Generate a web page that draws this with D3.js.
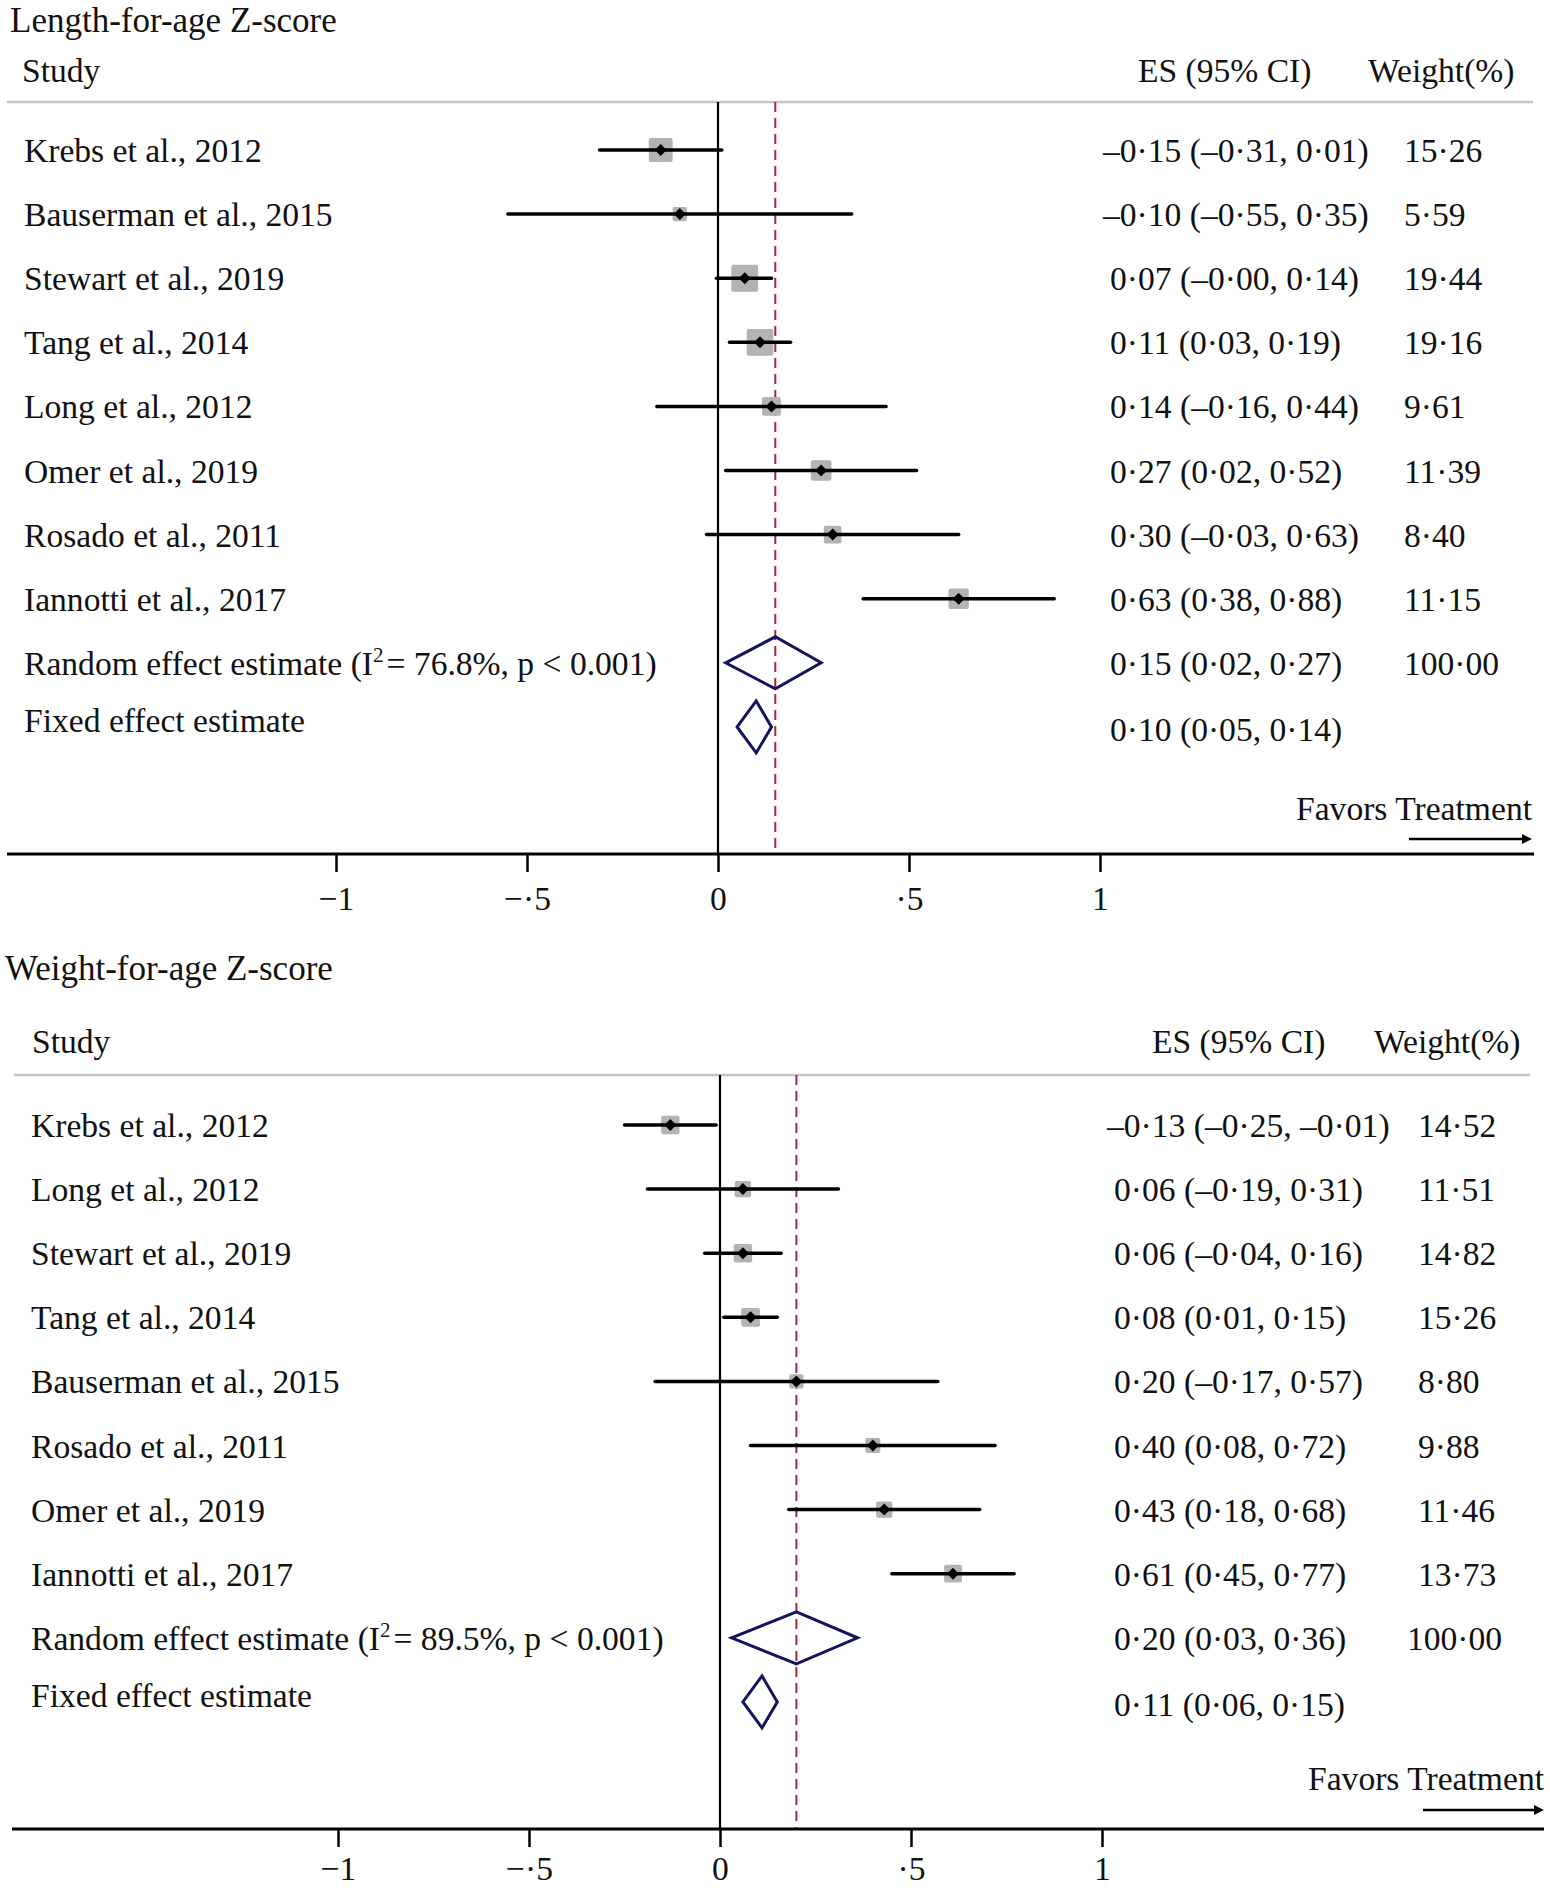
<!DOCTYPE html>
<html>
<head>
<meta charset="utf-8">
<script src="https://cdn.jsdelivr.net/npm/d3@7"></script>
<style>
  body { margin: 0; background: #fff; }
  svg { display: block; }
  text { font-family: "Liberation Serif", "Times New Roman", serif; fill: #111; }
</style>
</head>
<body>
<div id="chart"></div>
<script>
// Length-for-age Z-score
const lazStudies = ["Krebs et al., 2012", "Bauserman et al., 2015", "Stewart et al., 2019", "Tang et al., 2014",
    "Long et al., 2012", "Omer et al., 2019", "Rosado et al., 2011", "Iannotti et al., 2017"];
const lazES = [-0.15, -0.10, 0.07, 0.11, 0.14, 0.27, 0.30, 0.63];
const lazLo = [-0.31, -0.55, -0.004, 0.03, -0.16, 0.02, -0.03, 0.38];
const lazHi = [0.01, 0.35, 0.14, 0.19, 0.44, 0.52, 0.63, 0.88];
const lazWeight = [15.26, 5.59, 19.44, 19.16, 9.61, 11.39, 8.40, 11.15];
const lazRandom = [0.15, 0.02, 0.27];
const lazFixed = [0.10, 0.05, 0.14];
const lazI2 = "76.8%";

// Weight-for-age Z-score
const wazStudies = ["Krebs et al., 2012", "Long et al., 2012", "Stewart et al., 2019", "Tang et al., 2014",
    "Bauserman et al., 2015", "Rosado et al., 2011", "Omer et al., 2019", "Iannotti et al., 2017"];
const wazES = [-0.13, 0.06, 0.06, 0.08, 0.20, 0.40, 0.43, 0.61];
const wazLo = [-0.25, -0.19, -0.04, 0.01, -0.17, 0.08, 0.18, 0.45];
const wazHi = [-0.01, 0.31, 0.16, 0.15, 0.57, 0.72, 0.68, 0.77];
const wazWeight = [14.52, 11.51, 14.82, 15.26, 8.80, 9.88, 11.46, 13.73];
const wazRandom = [0.20, 0.03, 0.36];
const wazFixed = [0.11, 0.06, 0.15];
const wazI2 = "89.5%";

const tickValues = [-1, -0.5, 0, 0.5, 1];

const width = 1550, height = 1888;
const fontSize = 33.6;

const svg = d3.select("#chart").append("svg")
    .attr("width", width)
    .attr("height", height)
    .attr("viewBox", [0, 0, width, height]);

// number formatting like the original (middle dot decimals, en dash minus)
const fmt = v => v.toFixed(2).replace(".", "\u00b7").replace("-", "\u2013");
const tickFmt = v => v === 0 ? "0" : String(v).replace("0.", ".").replace(".", "\u00b7").replace("-", "\u2212");
const ciText = (es, lo, hi) => `${fmt(es)} (${fmt(lo)}, ${fmt(hi)})`;

function drawPanel(p) {
    const g = svg.append("g");
    const n = p.studies.length;

    const x = d3.scaleLinear().domain([-1, 1]).range([p.zero - 382, p.zero + 382]);
    const y = d3.scaleLinear().domain([0, 9]).range([p.row0, p.row0 + 9 * 64.1]);
    const box = d3.scaleSqrt().domain([0, 1]).range([0, p.boxK]);
    // ES column: values starting with a minus hang a little to the left
    const esX = v => v < 0 ? p.esX - 7 : p.esX;

    // title + header
    g.append("text").attr("x", p.titleX).attr("y", p.titleY).style("font-size", "35px").text(p.title);
    g.append("text").attr("x", p.studyX).attr("y", p.headerY).style("font-size", fontSize + "px").text("Study");
    g.append("text").attr("x", p.esHeadX).attr("y", p.headerY).style("font-size", fontSize + "px").text("ES (95% CI)");
    g.append("text").attr("x", p.wHeadX).attr("y", p.headerY).style("font-size", fontSize + "px").text("Weight(%)");

    g.append("line")
        .attr("x1", p.lineX1).attr("x2", p.lineX2)
        .attr("y1", p.lineY).attr("y2", p.lineY)
        .attr("stroke", "#c4c4c4").attr("stroke-width", 2.5);

    // null line and pooled reference line
    g.append("line")
        .attr("x1", x(0)).attr("x2", x(0))
        .attr("y1", p.lineY).attr("y2", p.axisY)
        .attr("stroke", "#000").attr("stroke-width", 2.2);

    g.append("line")
        .attr("x1", x(p.random[0])).attr("x2", x(p.random[0]))
        .attr("y1", p.lineY).attr("y2", p.axisY)
        .attr("stroke", "#9e2a3c").attr("stroke-width", 2)
        .attr("stroke-dasharray", "10,6");

    const rows = p.studies.map((s, i) => ({ name: s, es: p.es[i], lo: p.lo[i], hi: p.hi[i], w: p.weight[i], i }));

    // weight boxes
    g.append("g").selectAll("rect")
        .data(rows)
        .join("rect")
        .attr("x", d => x(d.es) - box(d.w) / 2)
        .attr("y", d => y(d.i) - box(d.w) / 2)
        .attr("width", d => box(d.w))
        .attr("height", d => box(d.w))
        .attr("rx", 2)
        .attr("fill", "#b3b3b3");

    // confidence intervals
    g.append("g").selectAll("line")
        .data(rows)
        .join("line")
        .attr("x1", d => x(d.lo))
        .attr("x2", d => x(d.hi))
        .attr("y1", d => y(d.i))
        .attr("y2", d => y(d.i))
        .attr("stroke", "#000")
        .attr("stroke-width", 3.5)
        .attr("stroke-linecap", "round");

    // point estimates
    g.append("g").selectAll("path")
        .data(rows)
        .join("path")
        .attr("d", d => {
            const cx = x(d.es), cy = y(d.i), r = 6;
            return `M${cx - r},${cy}L${cx},${cy - r}L${cx + r},${cy}L${cx},${cy + r}Z`;
        })
        .attr("fill", "#000");

    // row labels
    g.append("g").selectAll("text")
        .data(rows)
        .join("text")
        .attr("x", p.labelX)
        .attr("y", d => y(d.i) + 12)
        .style("font-size", fontSize + "px")
        .text(d => d.name);

    g.append("g").selectAll("text")
        .data(rows)
        .join("text")
        .attr("x", d => esX(d.es))
        .attr("y", d => y(d.i) + 12)
        .style("font-size", fontSize + "px")
        .text(d => ciText(d.es, d.lo, d.hi));

    g.append("g").selectAll("text")
        .data(rows)
        .join("text")
        .attr("x", p.wX)
        .attr("y", d => y(d.i) + 12)
        .style("font-size", fontSize + "px")
        .text(d => fmt(d.w));

    // pooled diamonds
    const pooled = [
        { v: p.random, i: n },
        { v: p.fixed, i: n + 1 }
    ];
    g.append("g").selectAll("path")
        .data(pooled)
        .join("path")
        .attr("d", d => {
            const cy = y(d.i), h = 26;
            return `M${x(d.v[1])},${cy}L${x(d.v[0])},${cy - h}L${x(d.v[2])},${cy}L${x(d.v[0])},${cy + h}Z`;
        })
        .attr("fill", "none")
        .attr("stroke", "#13135e")
        .attr("stroke-width", 3)
        .attr("stroke-linejoin", "miter");

    const rl = g.append("text")
        .attr("x", p.labelX)
        .attr("y", y(n) + 12)
        .style("font-size", fontSize + "px");
    rl.append("tspan").text("Random effect estimate (I");
    rl.append("tspan").attr("dy", -13).style("font-size", "21px").text("2");
    rl.append("tspan").attr("dy", 13).attr("dx", 3).text(`= ${p.i2}, p < 0.001)`);

    g.append("text")
        .attr("x", p.labelX)
        .attr("y", y(n + 1) + 5)
        .style("font-size", fontSize + "px")
        .text("Fixed effect estimate");

    g.append("text")
        .attr("x", esX(p.random[0]))
        .attr("y", y(n) + 12)
        .style("font-size", fontSize + "px")
        .text(ciText(...p.random));
    g.append("text")
        .attr("x", p.wTotalX)
        .attr("y", y(n) + 12)
        .style("font-size", fontSize + "px")
        .text(fmt(100));
    g.append("text")
        .attr("x", esX(p.fixed[0]))
        .attr("y", y(n + 1) + 14)
        .style("font-size", fontSize + "px")
        .text(ciText(...p.fixed));

    // favors treatment + arrow
    g.append("text")
        .attr("x", p.favorsX2)
        .attr("y", p.favorsY)
        .attr("text-anchor", "end")
        .style("font-size", fontSize + "px")
        .text("Favors Treatment");
    g.append("line")
        .attr("x1", p.arrowX1).attr("x2", p.arrowX2 - 8)
        .attr("y1", p.arrowY).attr("y2", p.arrowY)
        .attr("stroke", "#000").attr("stroke-width", 2.5);
    g.append("path")
        .attr("d", `M${p.arrowX2},${p.arrowY}L${p.arrowX2 - 10},${p.arrowY - 5}L${p.arrowX2 - 10},${p.arrowY + 5}Z`)
        .attr("fill", "#000");

    // x axis
    g.append("line")
        .attr("x1", p.axisX1).attr("x2", p.axisX2)
        .attr("y1", p.axisY).attr("y2", p.axisY)
        .attr("stroke", "#000").attr("stroke-width", 3);

    const axis = g.append("g")
        .attr("transform", `translate(0,${p.axisY})`)
        .call(d3.axisBottom(x).tickValues(tickValues).tickSize(18).tickSizeOuter(0).tickFormat(tickFmt));
    axis.select(".domain").remove();
    axis.selectAll(".tick line").attr("stroke", "#000").attr("stroke-width", 2.5);
    axis.selectAll(".tick text")
        .attr("y", p.tickLabelDy)
        .attr("dy", null)
        .attr("fill", "#111")
        .style("font-family", "\"Liberation Serif\", \"Times New Roman\", serif")
        .style("font-size", fontSize + "px");
}

drawPanel({
    title: "Length-for-age Z-score",
    studies: lazStudies, es: lazES, lo: lazLo, hi: lazHi, weight: lazWeight,
    random: lazRandom, fixed: lazFixed, i2: lazI2,
    titleX: 10, titleY: 32, headerY: 82, studyX: 22, esHeadX: 1138, wHeadX: 1368,
    lineY: 102, lineX1: 7, lineX2: 1533,
    row0: 150, labelX: 24, esX: 1110, wX: 1404, wTotalX: 1404, zero: 718,
    axisY: 854, axisX1: 7, axisX2: 1534, tickLabelDy: 56,
    favorsX2: 1532, favorsY: 820, arrowY: 839, arrowX1: 1409, arrowX2: 1532,
    boxK: 6.1
});

drawPanel({
    title: "Weight-for-age Z-score",
    studies: wazStudies, es: wazES, lo: wazLo, hi: wazHi, weight: wazWeight,
    random: wazRandom, fixed: wazFixed, i2: wazI2,
    titleX: 5, titleY: 980, headerY: 1053, studyX: 32, esHeadX: 1152, wHeadX: 1374,
    lineY: 1075, lineX1: 14, lineX2: 1530,
    row0: 1125, labelX: 31, esX: 1114, wX: 1418, wTotalX: 1407, zero: 720,
    axisY: 1829, axisX1: 12, axisX2: 1544, tickLabelDy: 51,
    favorsX2: 1544, favorsY: 1790, arrowY: 1810, arrowX1: 1423, arrowX2: 1544,
    boxK: 4.8
});
</script>
</body>
</html>
